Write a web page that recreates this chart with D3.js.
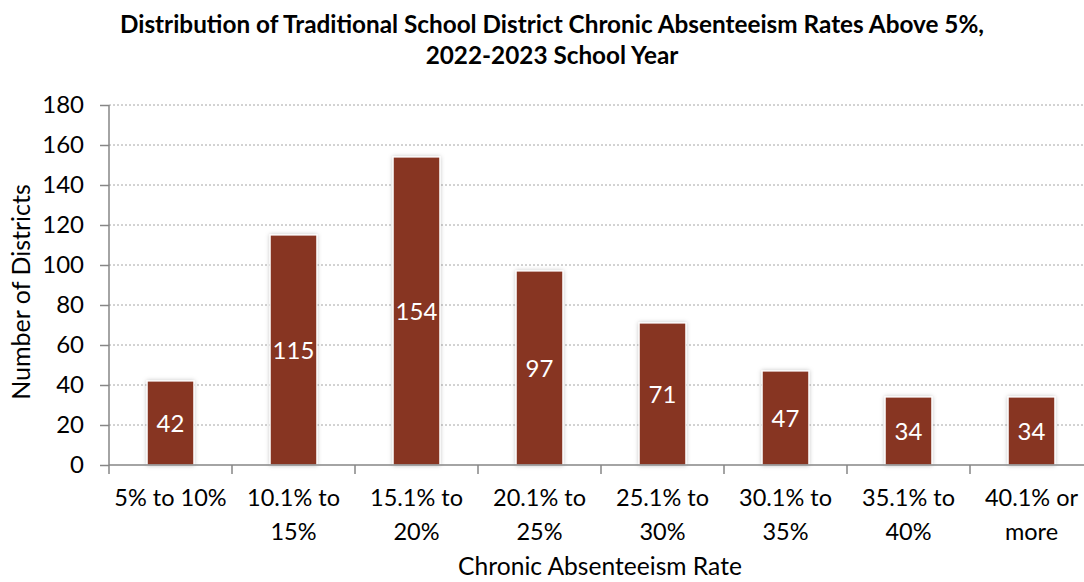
<!DOCTYPE html>
<html><head><meta charset="utf-8">
<script src="https://cdn.jsdelivr.net/npm/d3@7"></script>
<style>body{margin:0;background:#fff}svg{display:block}text{font-family:Lato,"Open Sans",sans-serif}</style>
</head><body><svg id="c" width="1084" height="582"></svg>
<script>
const categories = [["5% to 10%"],["10.1% to","15%"],["15.1% to","20%"],["20.1% to","25%"],["25.1% to","30%"],["30.1% to","35%"],["35.1% to","40%"],["40.1% or","more"]];
const values = [42,115,154,97,71,47,34,34];
const yTicks = [0,20,40,60,80,100,120,140,160,180];
const titleLines = ["Distribution of Traditional School District Chronic Absenteeism Rates Above 5%,","2022-2023 School Year"];

const svg = d3.select("#c");
const m = {l:109, t:105, r:1093, b:465};
const keys = categories.map((c,i)=>i);
const x = d3.scaleBand().domain(keys).range([m.l,m.r]).paddingInner(0.62).paddingOuter(0.31);
const y = d3.scaleLinear().domain([0,180]).range([m.b,m.t]);

// gridlines
svg.append("g").selectAll("line").data(yTicks.filter(d=>d>0)).join("line")
  .attr("x1",m.l).attr("x2",m.r).attr("y1",d=>y(d)).attr("y2",d=>y(d))
  .attr("stroke","#a6a6a6").attr("stroke-width",1).attr("stroke-dasharray","2,2");

const defs = svg.append("defs");
const f = defs.append("filter").attr("id","sh").attr("x","-20%").attr("y","-10%").attr("width","140%").attr("height","120%");
f.append("feDropShadow").attr("dx",0).attr("dy",0).attr("stdDeviation",2).attr("flood-color","#000").attr("flood-opacity",0.25);

// bars
svg.append("g").selectAll("rect").data(values).join("rect")
  .attr("x",(d,i)=>x(i)).attr("width",x.bandwidth())
  .attr("y",d=>y(d)).attr("height",d=>y(0)-y(d))
  .attr("fill","#873423").attr("stroke","#fff").attr("stroke-width",1.2)
  .attr("filter","url(#sh)");

// labels
svg.append("g").selectAll("text").data(values).join("text")
  .attr("x",(d,i)=>x(i)+x.bandwidth()/2).attr("y",d=>(y(d)+y(0))/2)
  .attr("dy","0.36em").attr("text-anchor","middle").attr("fill","#fff")
  .attr("font-size",24).text(d=>d);

// y axis
const ya = svg.append("g").attr("transform",`translate(${m.l},0)`)
  .call(d3.axisLeft(y).tickValues(yTicks).tickSize(9).tickPadding(16));
ya.select(".domain").attr("stroke","#868686").attr("stroke-width",1.5).attr("d",`M0,${m.t}V${m.b}`);
ya.selectAll(".tick line").attr("stroke","#868686").attr("stroke-width",1.5);
ya.selectAll(".tick text").attr("font-size",24).attr("fill","#000").attr("font-family","Lato,'Open Sans',sans-serif");

// x axis
const xa = svg.append("g").attr("transform",`translate(0,${m.b})`);
xa.append("line").attr("x1",m.l).attr("x2",m.r).attr("stroke","#868686").attr("stroke-width",1.5);
const bounds = d3.range(keys.length+1).map(i=>m.l + i*x.step());
xa.selectAll("line.t").data(bounds).join("line").attr("class","t")
  .attr("x1",d=>d).attr("x2",d=>d).attr("y1",0).attr("y2",9).attr("stroke","#868686").attr("stroke-width",1.5);
const xl = xa.selectAll("text").data(categories).join("text")
  .attr("text-anchor","middle").attr("font-size",23.5).attr("fill","#000")
  .attr("transform",(d,i)=>`translate(${x(i)+x.bandwidth()/2},41)`);
xl.selectAll("tspan").data(d=>d).join("tspan").attr("x",0).attr("dy",(d,j)=>j?34:0).text(d=>d);

// titles
svg.append("text").attr("x",552).attr("y",33).attr("text-anchor","middle").attr("font-size",24.3).attr("font-weight","bold")
  .selectAll("tspan").data(titleLines).join("tspan").attr("x",552).attr("dy",(d,j)=>j?31:0).text(d=>d);
svg.append("text").attr("x",600).attr("y",575).attr("text-anchor","middle").attr("font-size",24.6).text("Chronic Absenteeism Rate");
svg.append("text").attr("transform","translate(30,292) rotate(-90)").attr("text-anchor","middle").attr("font-size",25).text("Number of Districts");
</script></body></html>
